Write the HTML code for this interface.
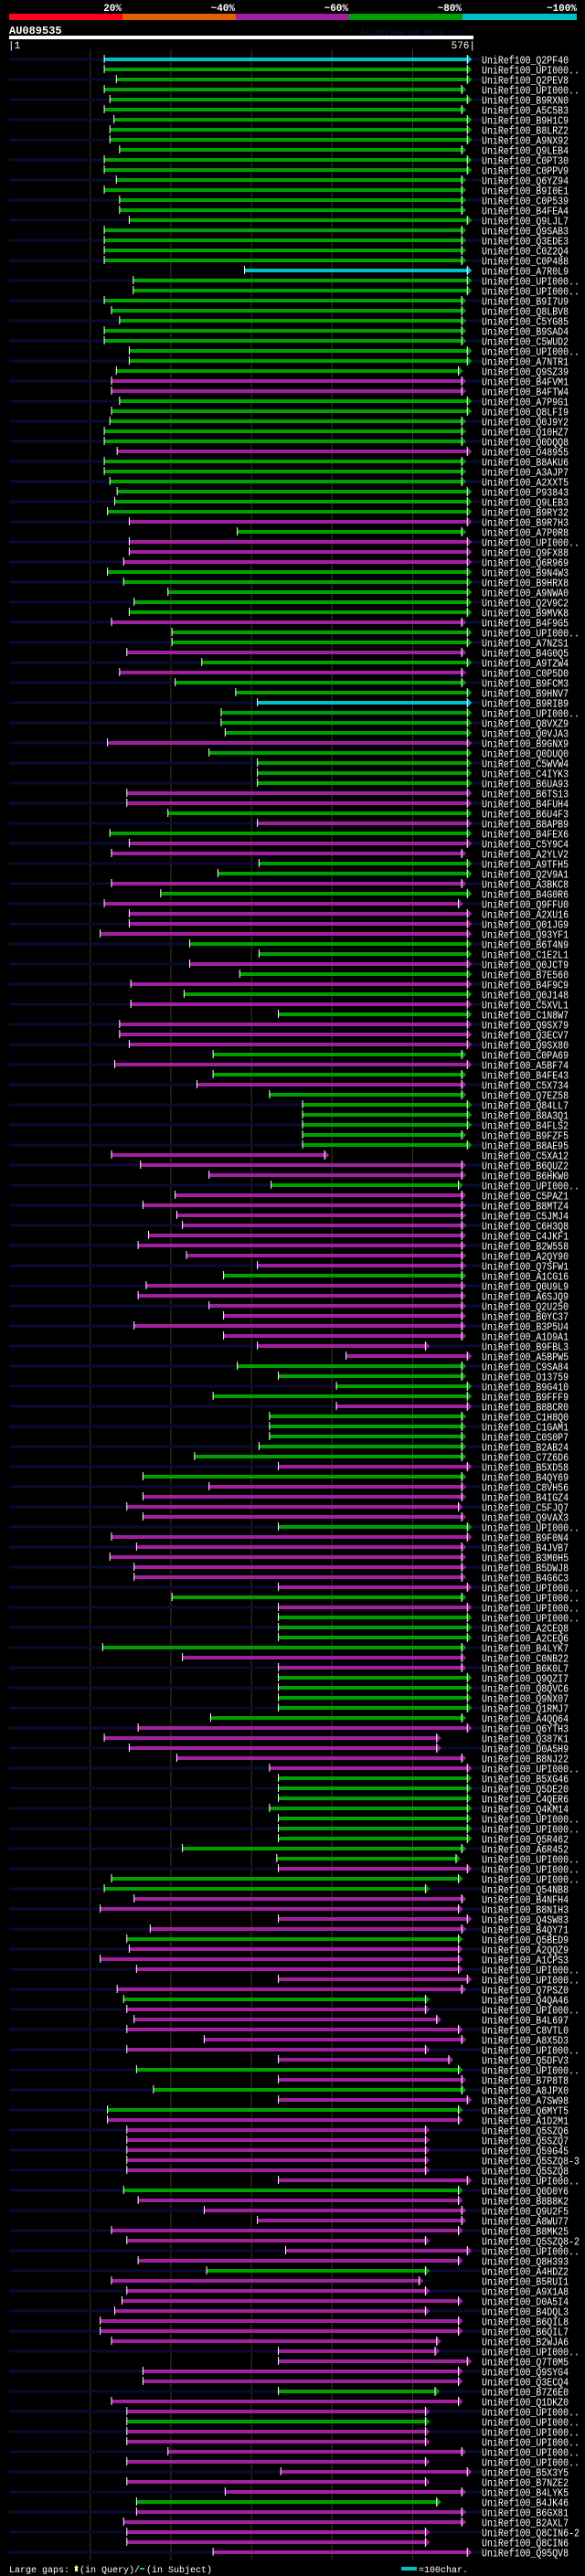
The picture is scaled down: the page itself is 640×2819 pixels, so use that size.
<!DOCTYPE html>
<html><head><meta charset="utf-8">
<style>
html,body{margin:0;padding:0;background:#000;}
svg{display:block;font-family:"Liberation Mono","DejaVu Sans Mono",monospace;}
</style></head>
<body>
<svg id="chart" width="640" height="2819" viewBox="0 0 640 2819" xmlns="http://www.w3.org/2000/svg">
<rect x="0" y="0" width="640" height="2819" fill="#000"/>
<g>
<rect x="10" y="15" width="124" height="7" fill="#ff0020"/>
<rect x="134" y="15" width="124" height="7" fill="#e06000"/>
<rect x="258" y="15" width="124" height="7" fill="#a020a0"/>
<rect x="382" y="15" width="124" height="7" fill="#00a000"/>
<rect x="506" y="15" width="125" height="7" fill="#00c0c8"/>
<text x="133" y="12" fill="#fff" font-size="11" font-weight="bold" text-anchor="end">20%</text>
<text x="257" y="12" fill="#fff" font-size="11" font-weight="bold" text-anchor="end">~40%</text>
<text x="381" y="12" fill="#fff" font-size="11" font-weight="bold" text-anchor="end">~60%</text>
<text x="505" y="12" fill="#fff" font-size="11" font-weight="bold" text-anchor="end">~80%</text>
<text x="631" y="12" fill="#fff" font-size="11" font-weight="bold" text-anchor="end">~100%</text>
</g>
<text x="10" y="37" fill="#fff" font-size="12" font-weight="bold">AU089535</text>
<text x="518" y="38" fill="#101048" font-size="9" text-anchor="end">AlignView.pm Beta rel.7</text>
<rect x="10" y="39" width="508" height="4" fill="#fff"/>
<text x="9" y="53" fill="#fff" font-size="11">|1</text>
<text x="520" y="53" fill="#fff" font-size="11" text-anchor="end">576|</text>
<g id="grid"></g>
<g id="rows"></g>
<g>
<text x="10" y="2815" fill="#fff" font-size="10">Large gaps:</text>
<rect x="82" y="2809" width="3" height="5" fill="#ffff80"/>
<polygon points="81,2810 83.5,2807 86,2810" fill="#ffff80"/>
<text x="87" y="2815" fill="#fff" font-size="10">(in Query)/</text>
<rect x="153" y="2810" width="5" height="2" fill="#00c0c8"/>
<text x="160" y="2815" fill="#fff" font-size="10">(in Subject)</text>
<rect x="439" y="2809" width="17" height="4" fill="#00c0c8"/>
<text x="458" y="2815" fill="#fff" font-size="10">=100char.</text>
</g>
</svg>
<script>
const labels = ["Q2PF40","UPI000..","Q2PEV8","UPI000..","B9RXN0","A5C5B3","B9H1C9","B8LRZ2","A9NX92","Q9LEB4",
"C0PT30","C0PPV9","Q6YZ94","B9I0E1","C0P539","B4FEA4","Q9LJL7","Q9SAB3","Q3EDE3","C0Z2Q4",
"C0P488","A7R0L9","UPI000..","UPI000..","B9I7U9","Q8LBV8","C5YG85","B9SAD4","C5WUD2","UPI000..",
"A7NTR1","Q9SZ39","B4FVM1","B4FTW4","A7P9G1","Q8LFI9","Q0J9Y2","Q10HZ7","Q0DQQ8","O48955",
"B8AKU6","A3AJP7","A2XXT5","P93843","Q9LEB3","B9RY32","B9R7H3","A7P0R8","UPI000..","Q9FX88",
"Q6R969","B9N4W3","B9HRX8","A9NWA0","Q2V9C2","B9MVK8","B4F9G5","UPI000..","A7NZS1","B4G0Q5",
"A9TZW4","C0P5D0","B9FCM3","B9HNV7","B9RIB9","UPI000..","Q8VXZ9","Q0VJA3","B9GNX9","Q0DUQ0",
"C5WVW4","C4IYK3","B6UA93","B6TS13","B4FUH4","B6U4F3","B8APB9","B4FEX6","C5Y9C4","A2YLV2",
"A9TFH5","Q2V9A1","A3BKC8","B4G0R6","Q9FFU0","A2XU16","Q01JG9","Q93YF1","B6T4N9","C1E2L1",
"Q0JCT9","B7E560","B4F9C9","Q0J148","C5XVL1","C1N8W7","Q9SX79","Q3ECV7","Q9SX80","C0PA69",
"A5BF74","B4FE43","C5X734","Q7EZ58","Q84LL7","B8A3Q1","B4FLS2","B9FZF5","B8AE95","C5XA12",
"B6QUZ2","B6HKW0","UPI000..","C5PAZ1","B8MTZ4","C5JMJ4","C6H3Q8","C4JKF1","B2W558","A2QY90",
"Q7SFW1","A1CG16","Q0U9L9","A6SJQ9","Q2U250","B0YC37","B3P5U4","A1D9A1","B9FBL3","A5BPW5",
"C9SA84","O13759","B9G410","B9FFF9","B8BCR0","C1H8Q0","C1GAM1","C0S0P7","B2AB24","C7Z6D6",
"B5XD58","B4QY69","C8VH56","B4IGZ4","C5FJQ7","Q9VAX3","UPI000..","B9F0N4","B4JVB7","B3M0H5",
"B5DWJ8","B4G6C3","UPI000..","UPI000..","UPI000..","UPI000..","A2CEQ8","A2CEQ6","B4LYK7","C0NB22",
"B6K0L7","Q9QZI7","Q8QVC6","Q9NX07","Q1RMJ7","A4QQ64","Q6YTH3","Q387K1","D0A5H9","B8NJ22",
"UPI000..","B5XG46","Q5DE20","C4QER6","Q4KM14","UPI000..","UPI000..","Q5R462","A6R452","UPI000..",
"UPI000..","UPI000..","Q54NB8","B4NFH4","B8NIH3","Q4SW83","B4QY71","Q5BED9","A2QQZ9","A1CPS3",
"UPI000..","UPI000..","Q7PSZ0","Q4QA46","UPI000..","B4L697","C8VTL0","A8X5D3","UPI000..","Q5DFV3",
"UPI000..","B7P8T8","A8JPX0","A7SW98","Q6MYT5","A1D2M1","Q5SZQ6","Q5SZQ7","Q59G45","Q5SZQ8-3",
"Q5SZQ8","UPI000..","Q0D0Y6","B8B8K2","Q9U2F5","A8WU77","B8MK25","Q5SZQ8-2","UPI000..","Q8H393",
"A4HDZ2","B5RUI1","A9X1A8","D0A5I4","B4DQL3","B6QIL8","B6QIL7","B2WJA6","UPI000..","Q7T0M5",
"Q9SYG4","Q3ECQ4","B7Z6E0","Q1DKZ0","UPI000..","UPI000..","UPI000..","UPI000..","UPI000..","UPI000..",
"B5X3Y5","B7NZE2","B4LYK5","B4JK46","B6GX81","B2AXL7","Q8CIN6-2","Q8CIN6","Q95QV8"];
const identity = "CGGGGGGGGGGGGGGGGGGGGCGGGGGGGGGGMMGGGGGMGGGGGGMGMMMGGGGGMGGMGMGGCGGGMGGGGMMGMGMMGGMGMMMMGGMGMGMGMMMGMGMGGGGGGMMMGMMMMMMMMGMMMMMMMMGGGGMGGGGGMGMMMMGMMMMMMGMGGGGMMGGGGGMMMMMGGGGGGGGGMGGMMMMGMMMMMGMMMMMMGMGMGMMMMMMMGMMMMMMMGMMMMMMMMMMMGMMGMMMMMMMGMMMMMMMM";
const starts = [118,118,133,118,125,118,130,125,125,137,
118,118,133,118,137,137,149,118,118,118,
118,292,154,154,118,127,137,118,118,149,
149,133,127,127,137,127,125,118,118,134,
118,118,125,134,131,122,149,283,149,149,
142,122,142,197,155,149,127,202,202,146,
239,137,206,281,308,263,263,268,122,248,
308,308,308,146,146,197,308,125,149,127,
310,259,127,188,118,149,149,113,224,310,
224,286,151,217,151,334,137,137,149,253,
131,253,233,323,364,364,364,364,364,127,
163,248,325,206,166,208,215,173,160,220,
308,266,170,160,248,266,155,266,308,418,
283,334,406,253,406,323,323,323,310,230,
334,166,248,166,146,166,334,127,158,125,
155,155,334,202,334,334,334,334,116,215,
334,334,334,334,334,250,160,118,149,208,
323,334,334,334,323,334,334,334,215,332,
334,127,118,155,113,334,175,146,149,113,
158,334,134,142,146,155,146,242,146,334,
158,334,179,334,122,122,146,146,146,146,
146,334,142,160,242,308,127,146,343,160,
245,127,146,140,131,113,113,127,334,334,
166,166,334,127,146,146,146,146,197,146,
337,146,268,158,158,142,146,146,253];
const ends = [574,574,574,567,574,567,574,574,574,567,
574,574,567,567,567,567,574,567,567,567,
567,574,574,574,567,567,567,567,567,574,
574,563,567,567,574,574,567,567,567,574,
567,567,567,574,574,574,574,567,574,574,
574,574,574,574,574,574,567,574,574,567,
574,567,567,574,574,574,574,574,574,574,
574,574,574,574,574,574,574,574,574,567,
574,574,567,574,563,574,574,574,574,574,
574,574,574,574,574,574,574,574,574,567,
574,567,567,567,574,574,574,567,574,397,
567,567,563,567,567,567,567,567,567,567,
567,567,567,567,567,567,567,567,522,574,
567,567,574,574,574,567,567,567,567,567,
574,567,567,567,563,567,574,574,567,567,
567,567,574,567,574,574,574,574,567,567,
567,574,574,574,574,567,574,536,536,567,
574,574,574,574,574,574,574,574,567,560,
574,563,522,567,563,574,567,563,563,563,
563,574,567,522,522,536,563,567,522,551,
563,567,567,574,563,563,522,522,522,522,
522,574,563,563,567,567,563,522,574,563,
522,514,522,563,522,563,563,536,534,574,
563,563,534,563,522,522,522,522,567,522,
574,522,567,536,567,567,522,522,574];
const gridTicks = [100,200,300,400,500];

const QLEN = 576, X0 = 10, X1 = 518, ROW0 = 65, ROWH = 11;
const colorMap = {C:"#00c0c8", G:"#00a000", M:"#a020a0"};
function xs(aa){ return X0 + aa * (X1 - X0) / QLEN; }
function ys(i){ return ROW0 + i * ROWH; }
const NS = "http://www.w3.org/2000/svg";
function mk(tag, attrs, parent){
  const e = document.createElementNS(NS, tag);
  for (const k in attrs) e.setAttribute(k, attrs[k]);
  parent.appendChild(e);
  return e;
}
const grid = document.getElementById('grid');
gridTicks.forEach(t => {
  const l = mk('line', {x1: xs(t)+0.5, x2: xs(t)+0.5, y1: 54, y2: 2802, stroke: "#3a3a10", "stroke-width": 1}, grid);
  
  
});
const rows = document.getElementById('rows');
labels.forEach((lab, i) => {
  const y = ys(i);
  const g = mk('g', {}, rows);
  
  
  if (i % 2 === 0) {
    const bg = mk('rect', {x: X0, y: y - 1.5, width: 517, height: 3, fill: "#0a0a34"}, g);
    
    
  }
  const col = colorMap[identity[i]];
  const sx = xs(starts[i]), ex = xs(ends[i]);
  const bar = mk('rect', {x: sx, y: y - 2, width: Math.max(1, ex - 5 - sx), height: 4, fill: col}, g);
  
  
  const tk = mk('rect', {x: sx - 0.5, y: y - 5, width: 1, height: 9, fill: "#fff"}, g);
  
  
  const ar = mk('polygon', {points: (ex-5)+","+(y-5)+" "+ex+","+y+" "+(ex-5)+","+(y+5), fill: col}, g);
  
  
  const al = mk('rect', {x: ex - 5.5, y: y - 5, width: 1, height: 10, fill: "#fff"}, g);
  
  
  const full = "UniRef100_" + lab;
  const tx = mk('text', {x: 527, y: y + 4.5, fill: "#fff", "font-size": 12, textLength: full.length * 5.94, lengthAdjust: "spacingAndGlyphs"}, g);
  tx.textContent = full;
  
  
});
</script>
</body></html>
